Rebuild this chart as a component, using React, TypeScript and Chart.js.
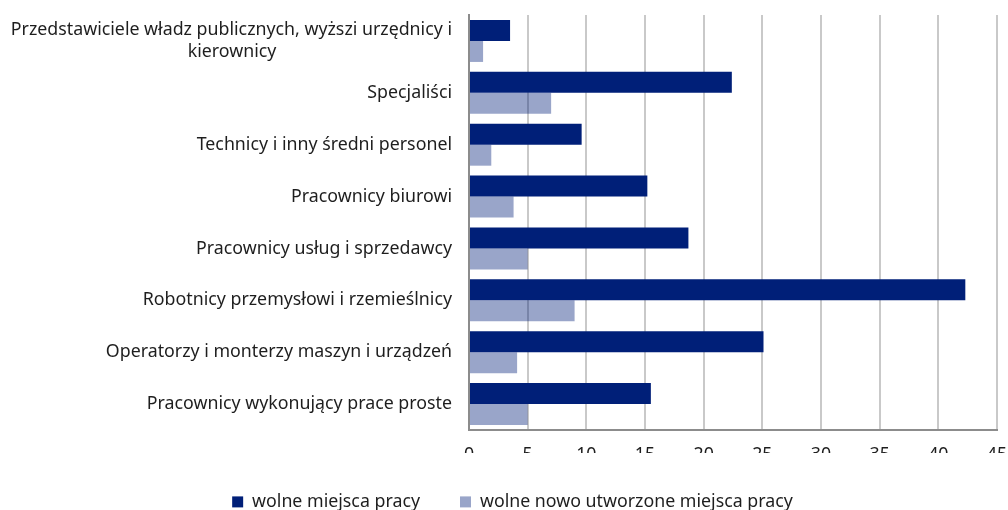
import { useEffect, useRef } from 'react';
import { Chart, registerables } from 'chart.js';

Chart.register(...registerables);

const categories: (string | string[])[] = [
  ['Przedstawiciele władz publicznych, wyższi urzędnicy i', 'kierownicy'],
  'Specjaliści',
  'Technicy i inny średni personel',
  'Pracownicy biurowi',
  'Pracownicy usług i sprzedawcy',
  'Robotnicy przemysłowi i rzemieślnicy',
  'Operatorzy i monterzy maszyn i urządzeń',
  'Pracownicy wykonujący prace proste',
];

const seriesNames = ['wolne miejsca pracy', 'wolne nowo utworzone miejsca pracy'];
const vacancies = [3.5, 22.4, 9.6, 15.2, 18.7, 42.3, 25.1, 15.5];
const newVacancies = [1.2, 7.0, 1.9, 3.8, 5.0, 9.0, 4.1, 5.0];

const xMin = 0;
const xMax = 45;
const xStep = 5;

const FONT_FAMILY = '"Noto Sans", "Open Sans", sans-serif';
const FONT_SIZE = 17.8;
const TEXT_COLOR = '#1e1e1e';

function centerSecondLine(label: string | string[]): string | string[] {
  if (!Array.isArray(label)) return label;
  const c = document.createElement('canvas').getContext('2d');
  if (!c) return label;
  c.font = `${FONT_SIZE}px ${FONT_FAMILY}`;
  const widest = Math.max(...label.map((l) => c.measureText(l).width));
  const sp = c.measureText(' ').width;
  return label.map((l) => {
    const n = Math.max(0, Math.round((widest - c.measureText(l).width) / 2 / sp));
    return l + ' '.repeat(n);
  });
}

const legendShift = {
  id: 'legendShift',
  afterLayout(chart: any) {
    const lg = chart.legend;
    if (lg) {
      lg.left += 28;
    }
  },
};

export default function App() {
  const ref = useRef<HTMLCanvasElement | null>(null);

  useEffect(() => {
    document.body.style.margin = '0';
    if (!ref.current) return;
    const chart = new Chart(ref.current, {
      type: 'bar',
      data: {
        labels: categories as any,
        datasets: [
          {
            label: seriesNames[0],
            data: vacancies,
            backgroundColor: '#001f78',
            borderWidth: 0,
            categoryPercentage: 0.81,
            barPercentage: 1.0,
          },
          {
            label: seriesNames[1],
            data: newVacancies,
            backgroundColor: 'rgba(0, 31, 120, 0.4)',
            borderWidth: 0,
            categoryPercentage: 0.81,
            barPercentage: 1.0,
          },
        ],
      },
      options: {
        indexAxis: 'y',
        animation: false,
        responsive: false,
        maintainAspectRatio: false,
        layout: { padding: { top: 15, right: 11, left: 0, bottom: 0 } },
        font: { family: FONT_FAMILY, size: FONT_SIZE },
        color: TEXT_COLOR,
        scales: {
          x: {
            type: 'linear',
            min: xMin,
            max: xMax,
            ticks: {
              stepSize: xStep,
              padding: 14,
              color: TEXT_COLOR,
              font: { family: FONT_FAMILY, size: FONT_SIZE, lineHeight: 1.2 },
            },
            grid: {
              color: '#c9c9c9',
              lineWidth: 2,
              drawTicks: false,
            },
            border: { display: true, color: '#8c8c8c', width: 2 },
            afterFit: (s: any) => {
              s.height = 23;
              s.paddingLeft = 0;
              s.paddingRight = 0;
            },
          },
          y: {
            ticks: {
              padding: 17,
              color: TEXT_COLOR,
              font: { family: FONT_FAMILY, size: FONT_SIZE, lineHeight: 1.22 },
              callback: function (this: any, _v: any, i: number) {
                return centerSecondLine(categories[i]);
              },
            },
            grid: { display: false, drawTicks: false },
            border: { display: true, color: '#8c8c8c', width: 2 },
            afterFit: (s: any) => {
              s.width = 469;
              s.paddingTop = 0;
              s.paddingBottom = 0;
            },
          },
        },
        plugins: {
          legend: {
            position: 'bottom',
            maxHeight: 57,
            labels: {
              boxWidth: 11,
              boxHeight: 11,
              padding: 40,
              color: TEXT_COLOR,
              font: { family: FONT_FAMILY, size: FONT_SIZE },
            },
          },
          tooltip: { enabled: false },
        },
      },
      plugins: [legendShift],
    });
    return () => chart.destroy();
  }, []);

  return (
    <div style={{ width: 1008, height: 510 }}>
      <canvas ref={ref} width={1008} height={510} style={{ display: 'block', width: 1008, height: 510 }} />
    </div>
  );
}
